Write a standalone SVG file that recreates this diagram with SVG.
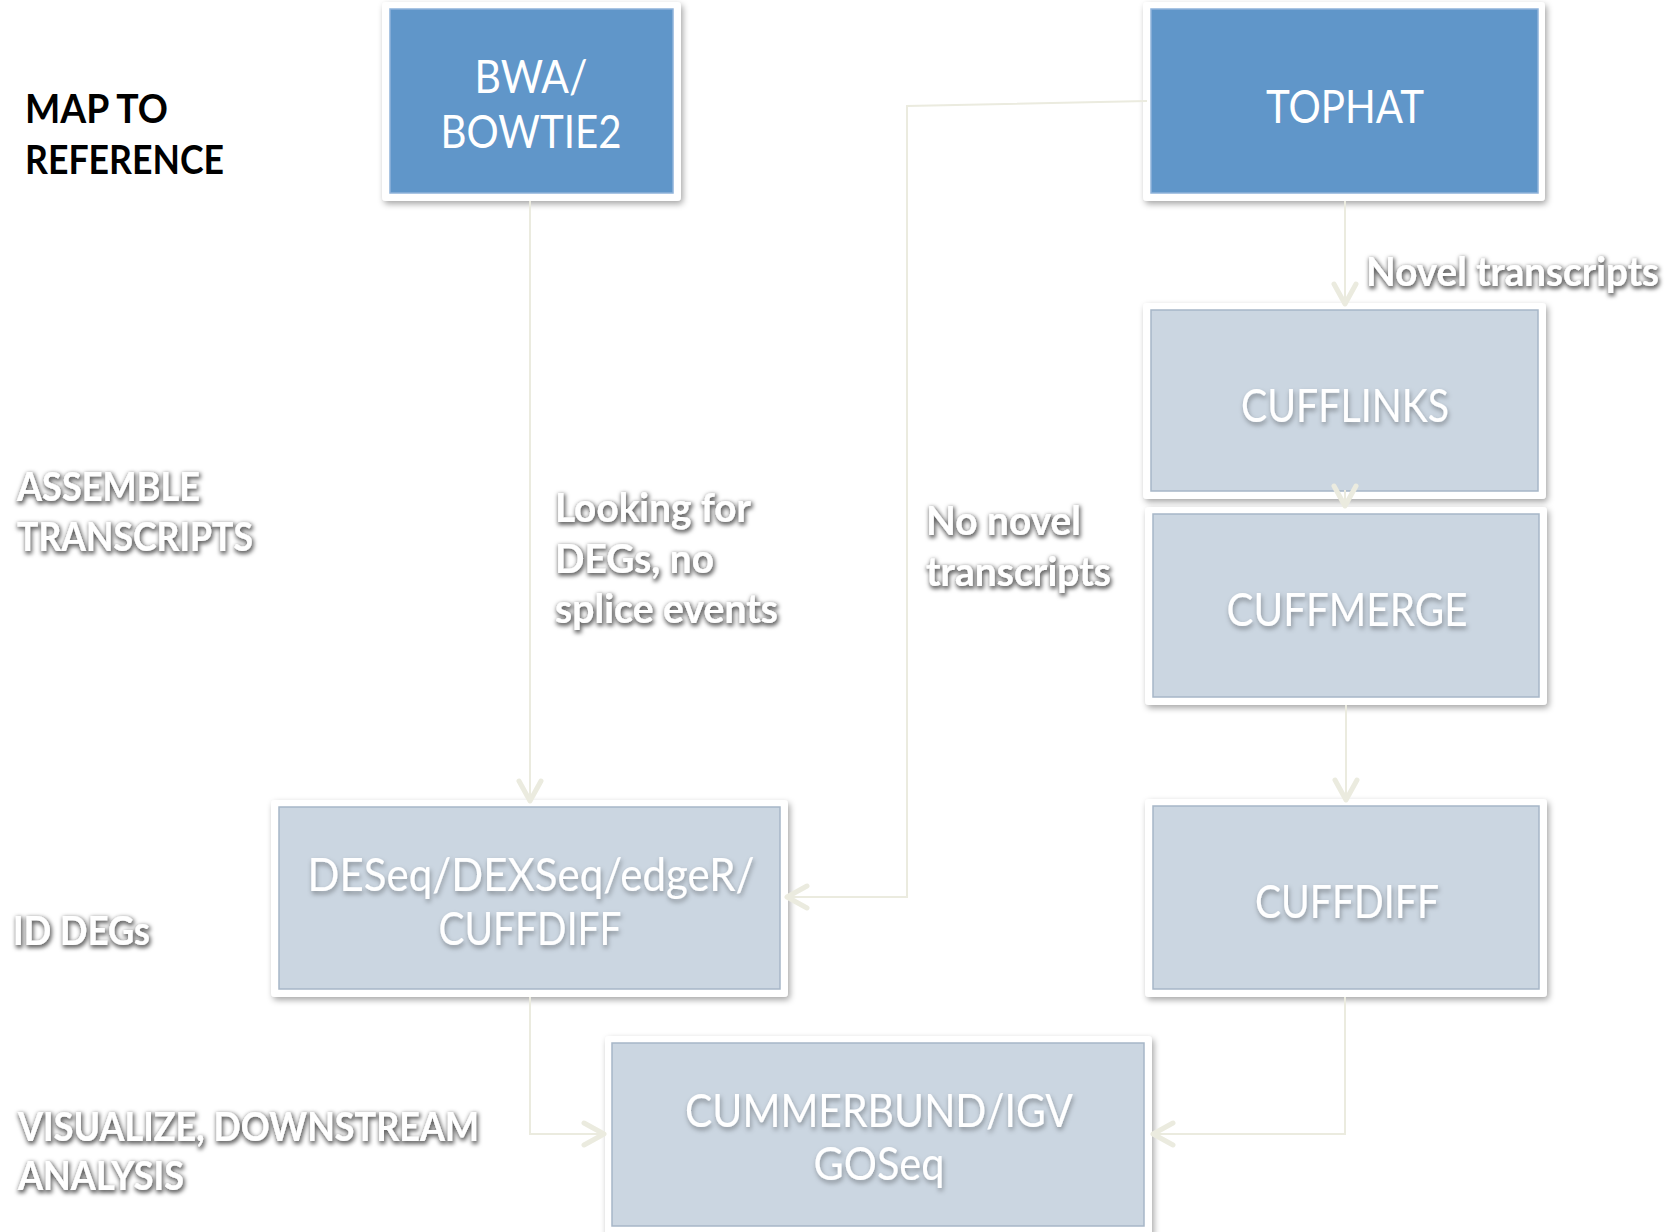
<svg xmlns="http://www.w3.org/2000/svg" width="1678" height="1232" viewBox="0 0 1678 1232">
<defs>
<style>
.frame{fill:#ffffff;filter:url(#boxsh)}
.blue{fill:#6096C9;stroke:#8FB3DA;stroke-width:1.5}
.light{fill:#CBD6E1;stroke:#A7B6C7;stroke-width:1.5}
.nt{font-family:Lato,"Open Sans","Liberation Sans",sans-serif;font-size:47px;fill:#ffffff;text-anchor:middle}
.ntl{filter:url(#txsh)}
.lab{font-family:Lato,"Open Sans","Liberation Sans",sans-serif;font-weight:bold;font-size:40px;fill:#ffffff;filter:url(#glow)}
.black{fill:#000000;filter:none}
.edge{fill:none;stroke:#EBEBDF;stroke-width:2}
.arr{fill:none;stroke:#EBEBDF;stroke-width:5;stroke-linecap:round;stroke-linejoin:round}
</style>
<filter id="boxsh" x="-10%" y="-10%" width="125%" height="125%">
<feDropShadow dx="2" dy="3" stdDeviation="3" flood-color="#000" flood-opacity="0.35"/>
</filter>
<filter id="txsh" x="-10%" y="-30%" width="120%" height="170%">
<feDropShadow dx="1" dy="3" stdDeviation="2.5" flood-color="#000" flood-opacity="0.35"/>
</filter>
<filter id="glow" x="-10%" y="-40%" width="120%" height="180%">
<feMorphology in="SourceAlpha" operator="dilate" radius="1.2" result="d"/>
<feGaussianBlur in="d" stdDeviation="2" result="b"/>
<feOffset in="b" dx="1" dy="1.5" result="o"/>
<feFlood flood-color="#000" flood-opacity="0.6"/>
<feComposite in2="o" operator="in" result="s"/>
<feMerge><feMergeNode in="s"/><feMergeNode in="SourceGraphic"/></feMerge>
</filter>
<marker id="ah" viewBox="-24 -14 28 28" refX="0" refY="0" markerWidth="28" markerHeight="28" markerUnits="userSpaceOnUse" orient="auto">
<path class="arr" d="M-20 -11 L0 0 L-20 11"/>
</marker>
</defs>
<rect width="1678" height="1232" fill="#ffffff"/>

<g id="bwa">
<rect class="frame" x="382" y="2" width="299" height="199" rx="4"/>
<rect class="blue" x="390" y="9" width="283" height="184"/>
<text class="nt" x="531" y="93" textLength="113" lengthAdjust="spacingAndGlyphs">BWA/</text>
<text class="nt" x="531" y="148" textLength="181" lengthAdjust="spacingAndGlyphs">BOWTIE2</text>
</g>

<g id="tophat">
<rect class="frame" x="1143" y="2" width="402" height="199" rx="4"/>
<rect class="blue" x="1151" y="9" width="387" height="184"/>
<text class="nt" x="1345" y="123" textLength="158" lengthAdjust="spacingAndGlyphs">TOPHAT</text>
</g>

<g id="cufflinks">
<rect class="frame" x="1143" y="303" width="403" height="196" rx="4"/>
<rect class="light" x="1151" y="310" width="387" height="181"/>
<text class="nt ntl" x="1345" y="422" textLength="208" lengthAdjust="spacingAndGlyphs">CUFFLINKS</text>
</g>

<g id="cuffmerge">
<rect class="frame" x="1145" y="507" width="402" height="198" rx="4"/>
<rect class="light" x="1153" y="514" width="386" height="183"/>
<text class="nt ntl" x="1347" y="626" textLength="241" lengthAdjust="spacingAndGlyphs">CUFFMERGE</text>
</g>

<g id="cuffdiff">
<rect class="frame" x="1145" y="799" width="402" height="198" rx="4"/>
<rect class="light" x="1153" y="806" width="386" height="183"/>
<text class="nt ntl" x="1347" y="918" textLength="184" lengthAdjust="spacingAndGlyphs">CUFFDIFF</text>
</g>

<g id="deseq">
<rect class="frame" x="271" y="800" width="517" height="197" rx="4"/>
<rect class="light" x="279" y="807" width="501" height="182"/>
<text class="nt ntl" x="531" y="891" textLength="447" lengthAdjust="spacingAndGlyphs">DESeq/DEXSeq/edgeR/</text>
<text class="nt ntl" x="530" y="945" textLength="183" lengthAdjust="spacingAndGlyphs">CUFFDIFF</text>
</g>

<g id="cummerbund">
<rect class="frame" x="605" y="1036" width="547" height="200" rx="4"/>
<rect class="light" x="612" y="1043" width="532" height="183"/>
<text class="nt ntl" x="879" y="1127" textLength="388" lengthAdjust="spacingAndGlyphs">CUMMERBUND/IGV</text>
<text class="nt ntl" x="879" y="1180" textLength="131" lengthAdjust="spacingAndGlyphs">GOSeq</text>
</g>

<g id="connectors">
<path class="edge" d="M530 201 V801" marker-end="url(#ah)"/>
<path class="edge" d="M1147 101 L907 106 V897 H787" marker-end="url(#ah)"/>
<path class="edge" d="M1345 201 V304" marker-end="url(#ah)"/>
<path class="edge" d="M1345 490 V506" marker-end="url(#ah)"/>
<path class="edge" d="M1346 705 V800" marker-end="url(#ah)"/>
<path class="edge" d="M530 997 V1134 H604" marker-end="url(#ah)"/>
<path class="edge" d="M1345 997 V1134 H1153" marker-end="url(#ah)"/>
</g>

<g id="labels">
<text class="lab black" x="25" y="123" textLength="143" lengthAdjust="spacingAndGlyphs">MAP TO</text>
<text class="lab black" x="25" y="174" textLength="199" lengthAdjust="spacingAndGlyphs">REFERENCE</text>
<text class="lab" x="17" y="501" textLength="183" lengthAdjust="spacingAndGlyphs">ASSEMBLE</text>
<text class="lab" x="17" y="551" textLength="236" lengthAdjust="spacingAndGlyphs">TRANSCRIPTS</text>
<text class="lab" x="13" y="945" textLength="137" lengthAdjust="spacingAndGlyphs">ID DEGs</text>
<text class="lab" x="18" y="1141" textLength="461" lengthAdjust="spacingAndGlyphs">VISUALIZE, DOWNSTREAM</text>
<text class="lab" x="18" y="1190" textLength="166" lengthAdjust="spacingAndGlyphs">ANALYSIS</text>
<text class="lab" x="1366" y="286" textLength="293" lengthAdjust="spacingAndGlyphs">Novel transcripts</text>
<text class="lab" x="555" y="522" textLength="196" lengthAdjust="spacingAndGlyphs">Looking for</text>
<text class="lab" x="555" y="573" textLength="159" lengthAdjust="spacingAndGlyphs">DEGs, no</text>
<text class="lab" x="555" y="623" textLength="223" lengthAdjust="spacingAndGlyphs">splice events</text>
<text class="lab" x="926" y="535" textLength="155" lengthAdjust="spacingAndGlyphs">No novel</text>
<text class="lab" x="926" y="586" textLength="185" lengthAdjust="spacingAndGlyphs">transcripts</text>
</g>
</svg>
